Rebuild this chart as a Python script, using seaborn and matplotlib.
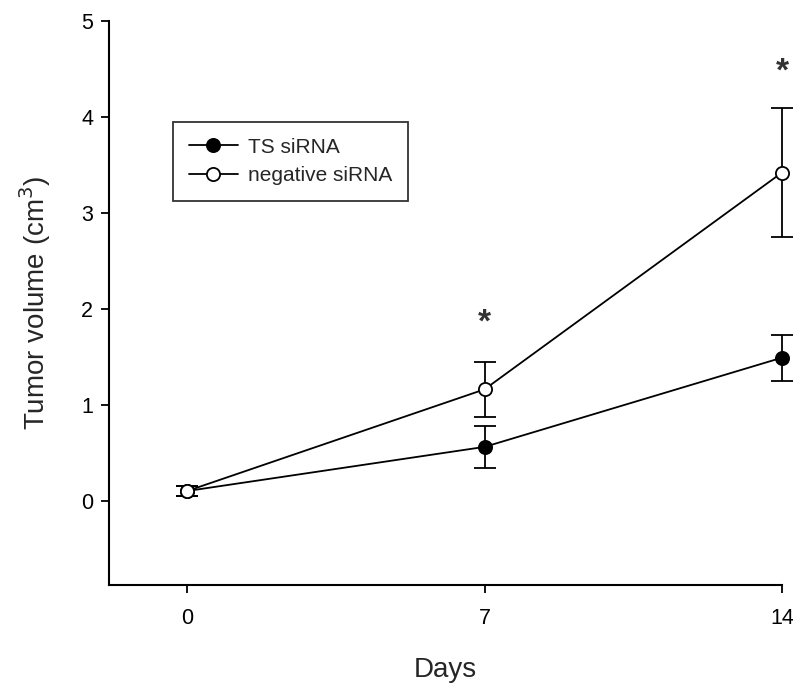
import numpy as np
import pandas as pd
import matplotlib
matplotlib.use("Agg")
import matplotlib.pyplot as plt
import seaborn as sns

days = [0, 7, 14]
ts_mean = [0.10, 0.56, 1.49]
ts_err = [0.05, 0.22, 0.24]
neg_mean = [0.10, 1.16, 3.42]
neg_err = [0.05, 0.29, 0.67]
star_days = [7, 14]
star_y = [1.85, 4.47]
xticks = [0, 7, 14]
yticks = [0, 1, 2, 3, 4, 5]

sns.set_style("ticks")
plt.rcParams['font.family'] = ['Liberation Sans', 'DejaVu Sans']

fig = plt.figure(figsize=(7.93, 6.88), dpi=100)
ax = fig.add_axes([109/793, 1-585/688, (782-109)/793, (585-21)/688])

df = pd.DataFrame({
    "day": days * 2,
    "vol": ts_mean + neg_mean,
    "group": ["TS siRNA"] * 3 + ["negative siRNA"] * 3,
})

for mean, err in [(neg_mean, neg_err), (ts_mean, ts_err)]:
    _, caps, bars = ax.errorbar(days, mean, yerr=err, fmt="none", ecolor="black",
                                elinewidth=1.3, capsize=8, capthick=1.3, zorder=2)
    for c in caps:
        c.set_clip_on(False)
    for b in bars:
        b.set_clip_on(False)

sns.lineplot(data=df[df.group == "TS siRNA"], x="day", y="vol", ax=ax,
             color="black", lw=1.3, marker="o", markersize=9.5,
             markerfacecolor="black", markeredgecolor="black",
             markeredgewidth=1.3, label="TS siRNA", zorder=3, clip_on=False)
sns.lineplot(data=df[df.group == "negative siRNA"], x="day", y="vol", ax=ax,
             color="black", lw=1.3, marker="o", markersize=9.5,
             markerfacecolor="white", markeredgecolor="black",
             markeredgewidth=1.3, label="negative siRNA", zorder=4, clip_on=False)

for d, y in zip(star_days, star_y):
    ax.text(d, y, "*", ha="center", va="center", fontsize=24,
            fontweight="bold", color="#333333")

ax.set_xlim(-1.84, 14)
ax.set_ylim(-0.88, 5)
ax.set_xticks(xticks)
ax.set_yticks(yticks)
ax.tick_params(axis="both", direction="out", length=5.5, width=1.3,
               labelsize=15.5, colors="black")
ax.tick_params(axis="y", pad=6)
ax.tick_params(axis="x", pad=11)
for s in ["top", "right"]:
    ax.spines[s].set_visible(False)
for s in ["left", "bottom"]:
    ax.spines[s].set_linewidth(1.5)
    ax.spines[s].set_color("black")

ax.set_xlabel("Days", fontsize=20, labelpad=20)
ax.set_ylabel("Tumor volume (cm$^{3}$)", fontsize=20, labelpad=20)

leg = ax.legend(loc="upper left", bbox_to_anchor=(0.0951, 0.821),
                fontsize=15, frameon=True, fancybox=False,
                edgecolor="black", handlelength=2.35, borderpad=0.75,
                labelspacing=0.45, handletextpad=0.5, borderaxespad=0)
leg.get_frame().set_linewidth(1.3)

fig.savefig("out.png", dpi=100)
